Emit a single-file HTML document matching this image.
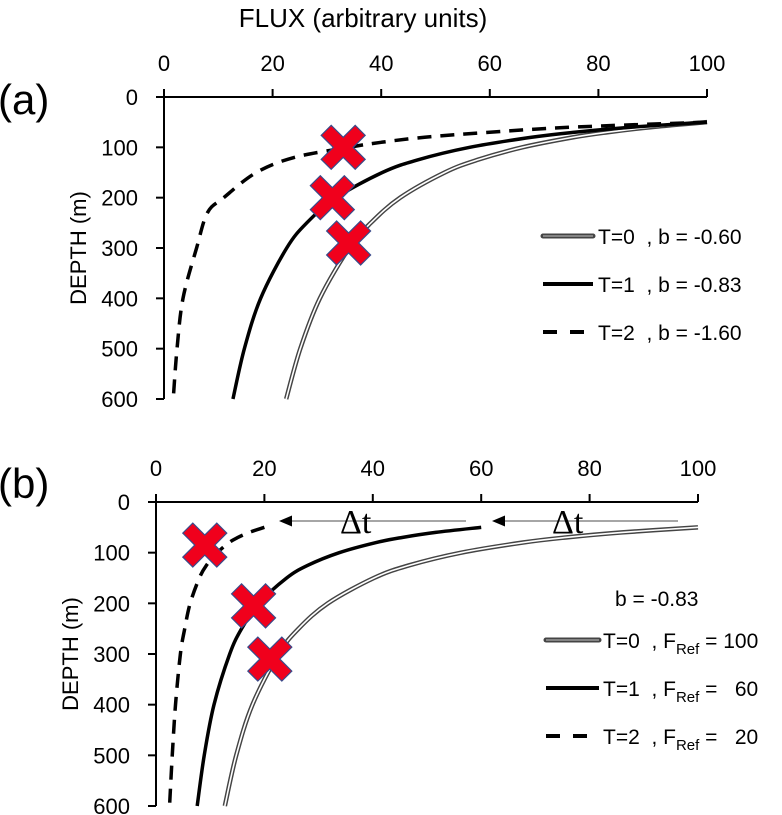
<!DOCTYPE html>
<html><head><meta charset="utf-8"><style>
html,body{margin:0;padding:0;background:#fff;}
svg{display:block;font-family:"Liberation Sans","DejaVu Sans",sans-serif;}
text{white-space:pre;}
</style></head><body>
<svg id="fig" width="782" height="815" viewBox="0 0 782 815"></svg>
<script>
// ---- Data ----
const xTicks = [0, 20, 40, 60, 80, 100];
const yTicks = [0, 100, 200, 300, 400, 500, 600];
const depthsMain = [50, 60, 70, 80, 100, 125, 150, 200, 250, 300, 400, 500, 600];
// Panel (a)
const aT0 = [100, 89.6, 81.7, 75.4, 66.0, 57.7, 51.7, 43.5, 38.1, 34.1, 28.7, 25.1, 22.5];
const aT1 = [100, 86.0, 75.6, 67.7, 56.3, 46.7, 40.2, 31.7, 26.3, 22.6, 17.8, 14.8, 12.7];
const aT2Depths = [50, 60, 70, 80, 90, 100, 120, 150, 200, 230, 300, 400, 500, 600];
const aT2 = [100, 75, 60, 48, 40, 34, 24, 17, 11, 8, 6, 3.5, 2.4, 1.7];
const aCrossX = [33, 31, 34];
const aCrossY = [100, 200, 290];
// Panel (b)
const bT0 = [100, 86.0, 75.6, 67.7, 56.3, 46.7, 40.2, 31.7, 26.3, 22.6, 17.8, 14.8, 12.7];
const bT1 = [60, 51.6, 45.4, 40.6, 33.8, 28.0, 24.1, 19.0, 15.8, 13.6, 10.7, 8.9, 7.6];
const bT2 = [20, 17.2, 15.1, 13.5, 11.3, 9.3, 8.0, 6.3, 5.3, 4.5, 3.6, 3.0, 2.5];
const bCrossX = [9, 18, 21];
const bCrossY = [85, 205, 310];

const NS = "http://www.w3.org/2000/svg";
const svg = document.getElementById("fig");
function mk(tag, attrs, parent, text) {
  const e = document.createElementNS(NS, tag);
  for (const k in attrs) e.setAttribute(k, attrs[k]);
  if (text !== undefined) e.textContent = text;
  (parent || svg).appendChild(e);
  return e;
}
function smoothPath(pts) {
  let d = "M" + pts[0][0] + "," + pts[0][1];
  for (let i = 0; i < pts.length - 1; i++) {
    const p0 = pts[Math.max(0, i - 1)], p1 = pts[i], p2 = pts[i + 1], p3 = pts[Math.min(pts.length - 1, i + 2)];
    const c1x = p1[0] + (p2[0] - p0[0]) / 6, c1y = p1[1] + (p2[1] - p0[1]) / 6;
    const c2x = p2[0] - (p3[0] - p1[0]) / 6, c2y = p2[1] - (p3[1] - p1[1]) / 6;
    d += " C" + c1x + "," + c1y + " " + c2x + "," + c2y + " " + p2[0] + "," + p2[1];
  }
  return d;
}

function panel(cfg) {
  const g = mk("g", {});
  
  
  const X = v => cfg.x0 + (v / 100) * (cfg.x1 - cfg.x0);
  const Y = v => cfg.y0 + (v / 600) * (cfg.y1 - cfg.y0);
  const xa = mk("line", {x1: cfg.x0, y1: cfg.y0, x2: cfg.x1, y2: cfg.y0, stroke: "#000", "stroke-width": 2}, g);
  
  
  const ya = mk("line", {x1: cfg.x0, y1: cfg.y0, x2: cfg.x0, y2: cfg.y1, stroke: "#000", "stroke-width": 2}, g);
  
  
  xTicks.forEach(t => {
    mk("line", {x1: X(t), y1: cfg.y0, x2: X(t), y2: cfg.y0 - 8, stroke: "#000", "stroke-width": 2}, g);
    const l = mk("text", {x: X(t), y: cfg.y0 - 26, "font-size": 22, "text-anchor": "middle", fill: "#000"}, g, t);
    
    
  });
  yTicks.forEach(t => {
    mk("line", {x1: cfg.x0 - 8, y1: Y(t), x2: cfg.x0, y2: Y(t), stroke: "#000", "stroke-width": 2}, g);
    const l = mk("text", {x: cfg.x0 - 26, y: Y(t) + 8, "font-size": 22, "text-anchor": "end", fill: "#000"}, g, t);
    
    
  });
  const yt = mk("text", {x: 0, y: 0, "font-size": 22, "text-anchor": "middle", transform: "translate(" + cfg.ytx + "," + ((cfg.y0 + cfg.y1) / 2) + ") rotate(-90)"}, g, "DEPTH (m)");
  
  
  cfg.series.forEach(s => {
    const pts = s.vals.map((v, i) => [X(v), Y(s.depths[i])]);
    const d = smoothPath(pts);
    if (s.style === "double") {
      const p = mk("path", {d: d, fill: "none", stroke: "#444", "stroke-width": 4.5}, g);
      
      
      mk("path", {d: d, fill: "none", stroke: "#fff", "stroke-width": 1.6}, g);
    } else {
      const p = mk("path", {d: d, fill: "none", stroke: "#000", "stroke-width": 3.5, "stroke-dasharray": s.style === "dash" ? "14,9" : "none"}, g);
      
      
    }
  });
  cfg.crossX.forEach((cx, i) => {
    const px = X(cx), py = Y(cfg.crossY[i]);
    const a = 10, b = 22;
    const d = `M${px},${py - a} L${px + b - a},${py - b} L${px + b},${py - b + a} L${px + a},${py} L${px + b},${py + b - a} L${px + b - a},${py + b} L${px},${py + a} L${px - b + a},${py + b} L${px - b},${py + b - a} L${px - a},${py} L${px - b},${py - b + a} L${px - b + a},${py - b} Z`;
    const c = mk("path", {d: d, fill: "#f0001c", stroke: "#3a4a8a", "stroke-width": 1.2}, g);
    
    
  });
  return {g, X, Y};
}

function legendLine(g, x1, x2, y, style) {
  if (style === "double") {
    mk("line", {x1, x2, y1: y, y2: y, stroke: "#444", "stroke-width": 5, "stroke-linecap": "round"}, g);
    mk("line", {x1, x2, y1: y, y2: y, stroke: "#999", "stroke-width": 1.6}, g);
  } else {
    mk("line", {x1, x2, y1: y, y2: y, stroke: "#000", "stroke-width": 4, "stroke-dasharray": style === "dash" ? "14,13" : "none"}, g);
  }
}

const title = mk("text", {x: 363, y: 27, "font-size": 26, "text-anchor": "middle"}, svg, "FLUX (arbitrary units)");


const la = mk("text", {x: -2, y: 114, "font-size": 42}, svg, "(a)");


const lb = mk("text", {x: -2, y: 498, "font-size": 42}, svg, "(b)");



const A = panel({name: "panel-a", x0: 164, x1: 707, y0: 97, y1: 399, ytx: 86,
  series: [
    {name: "line-a-t0", depths: depthsMain, vals: aT0, style: "double"},
    {name: "line-a-t1", depths: depthsMain, vals: aT1, style: "solid"},
    {name: "line-a-t2", depths: aT2Depths, vals: aT2, style: "dash"}],
  crossX: aCrossX, crossY: aCrossY});

const B = panel({name: "panel-b", x0: 156, x1: 698, y0: 502, y1: 806, ytx: 78,
  series: [
    {name: "line-b-t0", depths: depthsMain, vals: bT0, style: "double"},
    {name: "line-b-t1", depths: depthsMain, vals: bT1, style: "solid"},
    {name: "line-b-t2", depths: depthsMain, vals: bT2, style: "dash"}],
  crossX: bCrossX, crossY: bCrossY});

const legA = mk("g", {});


[["double", "T=0  , b = -0.60"], ["solid", "T=1  , b = -0.83"], ["dash", "T=2  , b = -1.60"]].forEach((e, i) => {
  const y = 236 + i * 48;
  legendLine(legA, 543, 593, y, e[0]);
  const t = mk("text", {x: 598, y: y + 8, "font-size": 21}, legA, e[1]);
  
  
});

const legB = mk("g", {});


const bl = mk("text", {x: 615, y: 606, "font-size": 21}, legB, "b = -0.83");


[["double", "T=0", "= 100"], ["solid", "T=1", "=   60"], ["dash", "T=2", "=   20"]].forEach((e, i) => {
  const y = 640 + i * 48;
  legendLine(legB, 546, 599, y, e[0]);
  const t = mk("text", {x: 603, y: y + 8, "font-size": 21}, legB);
  
  
  mk("tspan", {}, t, e[1] + "  , F");
  mk("tspan", {"font-size": 15, dy: 6}, t, "Ref");
  mk("tspan", {dy: -6}, t, " " + e[2]);
});

[[678, 496, 552], [466, 283, 340]].forEach(a => {
  const ag = mk("g", {});
  
  
  mk("line", {x1: a[0], y1: 521, x2: a[1] + 6, y2: 521, stroke: "#888", "stroke-width": 1.5}, ag);
  mk("path", {d: `M${a[1] - 4},521 L${a[1] + 9},515.5 L${a[1] + 9},526.5 Z`, fill: "#000"}, ag);
  const t = mk("text", {x: a[2], y: 533, "font-size": 34, "font-family": "Liberation Serif, serif"}, ag, "Δt");
  
  
});
</script>
</body></html>
